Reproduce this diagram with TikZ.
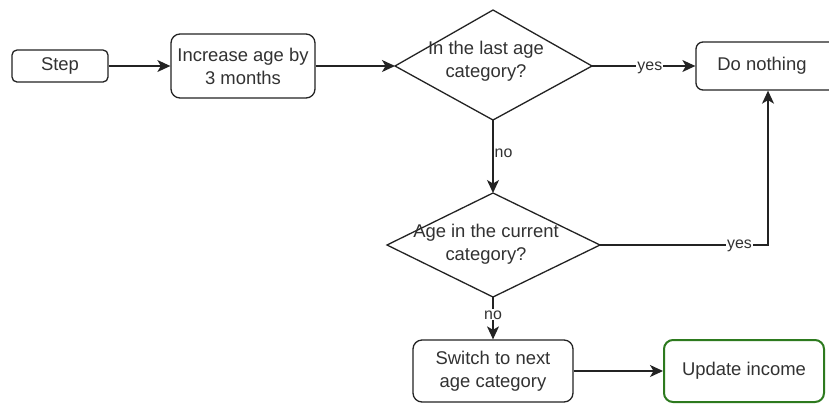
\documentclass[tikz,border=0pt]{standalone}
\usepackage{fontspec}
\setmainfont{Liberation Sans}
\usetikzlibrary{arrows.meta}
\definecolor{boxgreen}{RGB}{45,122,30}
\definecolor{ink}{RGB}{35,35,35}
\definecolor{txt}{RGB}{50,50,50}
\begin{document}
\begin{tikzpicture}[x=1bp,y=-1bp,
  every node/.style={font=\fontsize{18.5}{23}\selectfont, text=txt},
  proc/.style={draw=ink, line width=1.3bp, rounded corners=9bp, align=center, inner sep=0pt},
  flow/.style={draw=ink, line width=1.3bp, -{Stealth[length=13bp,width=12bp,inset=3.5bp]}},
  lbl/.style={fill=white, inner sep=1bp, font=\fontsize{16}{19}\selectfont}]
\useasboundingbox (0,0) rectangle (829,403);
\fill[white] (0,0) rectangle (829,403);

% process boxes
\node[proc, rounded corners=5bp, minimum width=96bp, minimum height=32bp] (step) at (60,66) {Step};
\node[proc, minimum width=144bp, minimum height=64bp] (inc) at (243,66) {Increase age by\\3 months};
\node[proc, rounded corners=7bp, minimum width=140bp, minimum height=48bp] (nothing) at (766,66) {};
\node at (762,66) {Do nothing};
\node[proc, minimum width=160bp, minimum height=62bp] (switch) at (493,371) {Switch to next\\age category};
\node[proc, draw=boxgreen, line width=2bp, minimum width=160bp, minimum height=62bp] (income) at (744,371) {Update income};

% first decision
\coordinate (lastN) at (493,10);
\coordinate (lastW) at (395,66);
\coordinate (lastE) at (592,66);
\coordinate (lastS) at (493,120);
\path[draw=ink, line width=1.3bp] (lastW) -- (lastN) -- (lastE) -- (lastS) -- cycle;
\node[align=center] (last) at (486,61) {In the last age\\category?};

% second decision
\coordinate (curN) at (493,193);
\coordinate (curW) at (387,245);
\coordinate (curE) at (600,245);
\coordinate (curS) at (493,297);
\path[draw=ink, line width=1.3bp] (curW) -- (curN) -- (curE) -- (curS) -- cycle;
\node[align=center] (cur) at (486,244) {Age in the current\\category?};

% connectors
\coordinate (bend) at (768,245);
\draw[flow] (step) -- (inc);
\draw[flow] (inc) -- (lastW);
\draw[flow] (lastE) -- node[lbl, pos=0.56, yshift=-2bp] {yes} (nothing.west);
\draw[flow] (lastS) -- node[pos=0.45, anchor=west, inner sep=1bp, font=\fontsize{16}{19}\selectfont] {no} (curN);
\draw[flow] (curE) -- (bend) node[lbl, pos=0.83, yshift=-1bp] {yes} -- (nothing.south -| bend);
\draw[flow] (curS) -- node[lbl, pos=0.42] {no} (switch.north);
\draw[flow] (switch) -- (income);
\end{tikzpicture}
\end{document}
